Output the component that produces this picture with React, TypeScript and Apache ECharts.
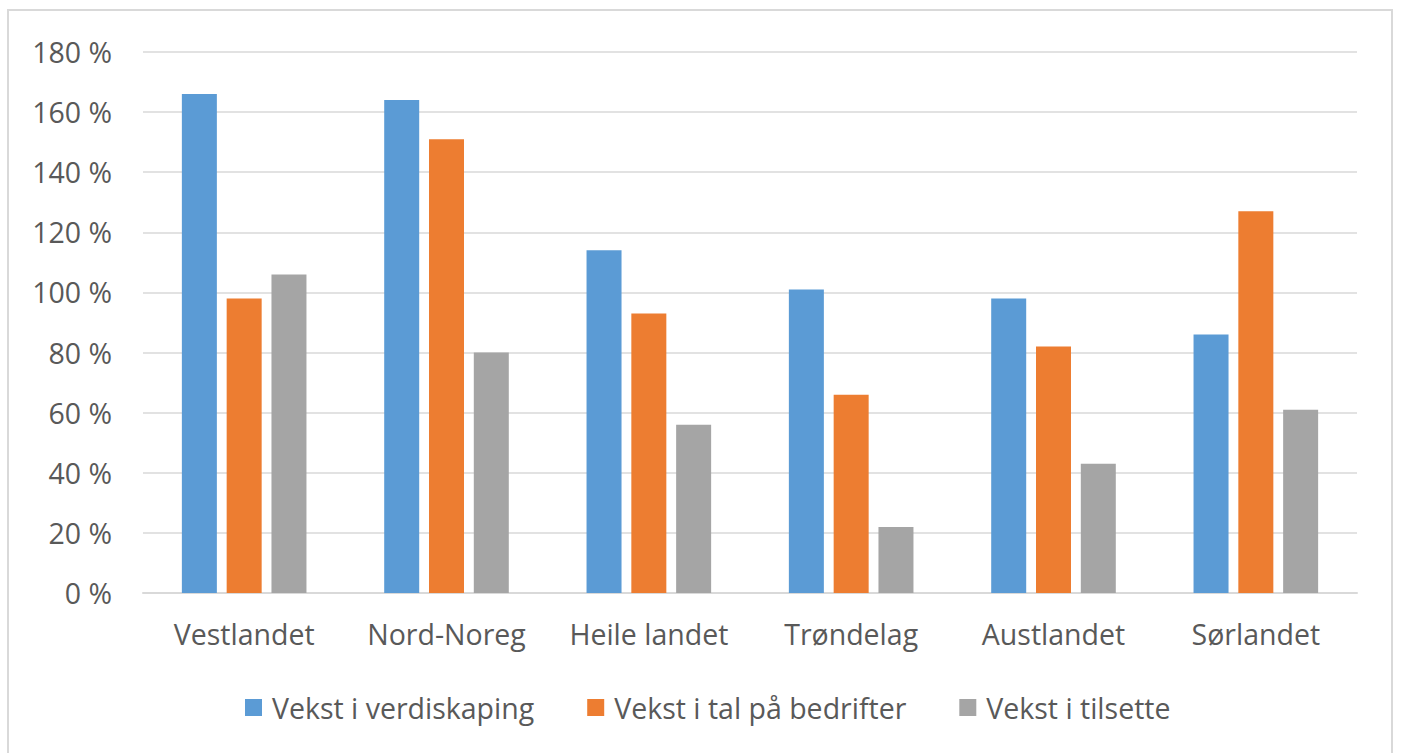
import React, { useEffect, useRef } from "react";
import * as echarts from "echarts";

const categories = ["Vestlandet", "Nord-Noreg", "Heile landet", "Trøndelag", "Austlandet", "Sørlandet"];
const seriesNames = ["Vekst i verdiskaping", "Vekst i tal på bedrifter", "Vekst i tilsette"];
const verdiskaping = [166, 164, 114, 101, 98, 86];
const bedrifter = [98, 151, 93, 66, 82, 127];
const tilsette = [106, 80, 56, 22, 43, 61];
const colors = ["#5B9BD5", "#ED7D31", "#A5A5A5"];

const FONT = "'Open Sans', Lato, sans-serif";
const TEXT = "#595959";
const FS = 28.5;

export default function App() {
  const ref = useRef<HTMLDivElement>(null);
  useEffect(() => {
    if (!ref.current) return;
    const chart = echarts.init(ref.current, null, { renderer: "svg" });
    const data = [verdiskaping, bedrifter, tilsette];
    chart.setOption({
      animation: false,
      backgroundColor: "#ffffff",
      textStyle: { fontFamily: FONT },
      graphic: [
        {
          type: "rect",
          shape: { x: 8, y: 10, width: 1384, height: 760 },
          style: { fill: "none", stroke: "#d9d9d9", lineWidth: 2 },
          silent: true,
        },
      ],
      grid: { left: 143, right: 45, top: 52, bottom: 160, containLabel: false },
      legend: {
        top: 688,
        left: 240,
        itemWidth: 17,
        itemHeight: 17,
        itemGap: 53,
        icon: "rect",
        textStyle: { fontSize: FS, color: TEXT, fontFamily: FONT, padding: [0, 0, 0, 5] },
        data: seriesNames,
      },
      xAxis: {
        type: "category",
        data: categories,
        axisLine: { lineStyle: { color: "#d9d9d9", width: 2 } },
        axisTick: { show: false },
        axisLabel: { fontSize: FS, color: TEXT, margin: 26, fontFamily: FONT, interval: 0 },
      },
      yAxis: {
        type: "value",
        min: 0,
        max: 180,
        interval: 20,
        axisLine: { show: false },
        axisTick: { show: false },
        splitLine: { lineStyle: { color: "#d9d9d9", width: 1.5 } },
        axisLabel: {
          fontSize: FS,
          color: TEXT,
          margin: 31,
          fontFamily: FONT,
          formatter: (v: number) => `${v} %`,
        },
      },
      series: seriesNames.map((name, i) => ({
        name,
        type: "bar",
        data: data[i],
        itemStyle: { color: colors[i] },
        barWidth: 35,
        barGap: "28%",
      })),
    });
    return () => chart.dispose();
  }, []);
  return (
    <div
      ref={ref}
      style={{ position: "absolute", left: 0, top: 0, width: 1402, height: 753 }}
    />
  );
}
